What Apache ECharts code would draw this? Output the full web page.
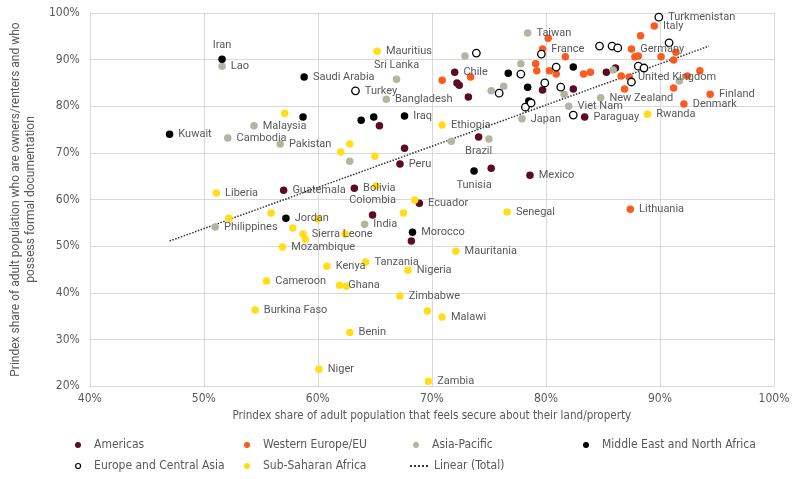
<!DOCTYPE html>
<html>
<head>
<meta charset="utf-8">
<script src="https://cdn.jsdelivr.net/npm/echarts@6/dist/echarts.min.js"></script>
<style>
html,body{margin:0;padding:0;background:#fff;}
#chart{width:800px;height:479px;}
</style>
</head>
<body>
<div id="chart"></div>
<script>
// ---- Data: [x = % feel secure, y = % owners/renters with formal documentation, label] ----
const americas = [
  [72.0,87.3,'Chile'],[72.2,85.0,''],[72.4,84.5,''],[73.2,82.0,''],[65.4,75.8,''],
  [67.6,71.0,''],[67.2,67.6,'Peru'],[74.1,73.4,'Brazil'],[75.2,66.7,''],[78.6,65.2,'Mexico'],
  [57.0,62.0,'Guatemala'],[63.2,62.4,'Bolivia'],[68.9,59.2,'Ecuador'],[64.8,56.7,'Colombia'],
  [68.2,51.1,''],[79.7,83.5,''],[82.4,83.7,''],[83.4,77.7,'Paraguay'],[85.3,87.3,''],[86.1,88.2,'']
];
const westernEurope = [
  [70.9,85.6,''],[73.4,86.3,''],[80.2,94.6,''],[79.7,92.3,'France'],[81.7,90.6,''],
  [79.1,89.1,''],[79.2,87.6,''],[80.3,87.6,''],[80.9,86.9,''],[83.3,86.9,''],
  [83.9,87.3,''],[86.6,86.5,''],[87.3,86.3,'United Kingdom'],[86.9,83.7,''],[88.3,95.1,''],
  [89.5,97.2,'Italy'],[87.5,92.3,'Germany'],[87.8,90.6,''],[88.1,90.8,''],[90.1,90.6,''],
  [91.2,89.9,''],[91.4,91.6,''],[92.4,86.5,''],[93.5,87.6,''],[91.2,83.9,''],
  [94.4,82.6,'Finland'],[92.1,80.5,'Denmark'],[87.4,57.9,'Lithuania']
];
const asiaPacific = [
  [51.6,88.6,'Lao'],[54.4,75.8,'Malaysia'],[52.1,73.2,'Cambodia'],[56.7,71.9,'Pakistan'],
  [51.0,54.1,'Philippines'],[66.9,85.8,'Sri Lanka'],[66.0,81.5,'Bangladesh'],[72.9,90.8,''],
  [78.4,95.7,'Taiwan'],[77.8,89.1,''],[75.2,83.3,''],[76.3,84.3,''],[77.9,77.3,'Japan'],
  [71.7,72.5,''],[75.0,73.0,''],[82.0,80.0,'Viet Nam'],[81.6,82.6,''],[84.8,81.8,'New Zealand'],
  [85.9,87.8,''],[91.7,85.4,''],[64.1,54.7,'India'],[62.8,68.2,'']
];
const middleEast = [
  [51.6,90.1,'Iran'],[47.0,74.0,'Kuwait'],[58.8,86.3,'Saudi Arabia'],[58.7,77.7,''],
  [63.8,77.0,''],[64.9,77.7,''],[67.6,77.9,'Iraq'],[73.7,66.1,'Tunisia'],[76.7,87.1,''],
  [78.4,84.1,''],[78.5,81.1,''],[82.4,88.4,''],[57.2,56.0,'Jordan'],[68.3,53.0,'Morocco']
];
const europeCentralAsia = [
  [63.3,83.3,'Turkey'],[73.9,91.4,''],[77.8,86.9,''],[75.9,82.8,''],[78.2,79.8,''],
  [78.7,80.7,''],[79.6,91.2,''],[80.9,88.4,''],[79.9,85.0,''],[81.3,84.1,''],
  [82.4,78.1,''],[84.7,92.9,''],[85.8,92.9,''],[86.3,92.5,''],[88.1,88.6,''],
  [88.6,88.2,''],[87.5,85.2,''],[90.8,93.6,''],[89.9,99.1,'Turkmenistan']
];
const subSaharan = [
  [65.2,91.8,'Mauritius'],[57.1,78.5,''],[70.9,76.0,'Ethiopia'],[62.8,71.9,''],[62.0,70.2,''],
  [65.0,69.3,''],[65.1,62.9,''],[51.1,61.4,'Liberia'],[52.2,56.0,''],[55.9,57.1,''],
  [57.8,53.9,''],[58.7,52.6,'Sierra Leone'],[58.9,51.5,''],[56.9,49.8,'Mozambique'],[62.4,52.6,''],
  [60.0,55.8,''],[60.8,45.7,'Kenya'],[55.5,42.5,'Cameroon'],[61.9,41.6,'Ghana'],[62.5,41.4,''],
  [54.5,36.3,'Burkina Faso'],[64.2,46.6,'Tanzania'],[67.9,44.8,'Nigeria'],[72.1,48.9,'Mauritania'],
  [67.2,39.3,'Zimbabwe'],[69.6,36.1,''],[70.9,34.8,'Malawi'],[62.8,31.5,'Benin'],
  [60.1,23.6,'Niger'],[69.7,21.0,'Zambia'],[76.6,57.3,'Senegal'],[67.5,57.1,''],[68.5,59.9,''],
  [88.9,78.3,'Rwanda']
];
// Linear trend (Total), endpoints as drawn
const trendX = [47.0, 94.3];
const trendY = [51.1, 92.9];
const rSquaredText = 'R² = 0.3576';

const xTicks = {min: 40, max: 100, interval: 10};
const yTicks = {min: 20, max: 100, interval: 10};

const xTitle = 'Prindex share of adult population that feels secure about their land/property';
const yTitle = 'Prindex share of adult population who are owners/renters and who\npossess formal documentation';

const labelPos = {'Iran':'top','Sri Lanka':'top','Colombia':'top','Brazil':'bottom','Tunisia':'bottom'};

const condensed = '"Liberation Sans Narrow","DejaVu Sans Condensed","Roboto Condensed",sans-serif';
const labelFont = 'Roboto, "Noto Sans", sans-serif';
const textColor = '#595959';

function toData(arr){
  return arr.map(d => {
    const o = {value:[d[0], d[1]], name: d[2]};
    if (d[2]) {
      o.label = {show:true, position: labelPos[d[2]] || 'right'};
    }
    return o;
  });
}

function scatter(name, arr, color, border){
  return {
    name, type:'scatter', data: toData(arr), symbolSize: 7.5,
    itemStyle: border ? {color:'#ffffff', borderColor: border, borderWidth:1.3, opacity:1}
                      : {color, opacity:1},
    label: {show:false, formatter: p => p.data.name, color: textColor, fontSize: 11,
            fontFamily: labelFont, distance: 5},
    emphasis: {disabled:true}, z: 3
  };
}

const chart = echarts.init(document.getElementById('chart'), null, {renderer:'canvas'});

const legendBase = {
  orient:'horizontal', itemWidth: 22, itemHeight: 6, itemGap: 4,
  textStyle: {color: textColor, fontSize: 12, fontFamily: condensed},
  selectedMode: false
};
function leg(name, left, top, opts){
  return Object.assign({}, legendBase, {data:[name], left, top}, opts || {});
}

chart.setOption({
  animation: false,
  backgroundColor: '#fff',
  grid: {left: 78, right: 26, top: 13, bottom: 93},
  xAxis: {
    type:'value', min: xTicks.min, max: xTicks.max, interval: xTicks.interval,
    axisLine:{show:true, lineStyle:{color:'#d9d9d9'}}, axisTick:{show:false},
    splitLine:{show:true, lineStyle:{color:'#d9d9d9', width:1}},
    axisLabel:{formatter:'{value}%', color:textColor, fontSize:12, fontFamily:condensed, margin:7},
    name: xTitle, nameLocation:'middle', nameGap: 21,
    nameTextStyle:{color:textColor, fontSize:11.6, fontFamily:condensed}
  },
  yAxis: {
    type:'value', min: yTicks.min, max: yTicks.max, interval: yTicks.interval,
    axisLine:{show:true, lineStyle:{color:'#d9d9d9'}}, axisTick:{show:false},
    splitLine:{show:true, lineStyle:{color:'#d9d9d9', width:1}},
    axisLabel:{formatter:'{value}%', color:textColor, fontSize:12, fontFamily:condensed, margin:10},
    name: yTitle, nameLocation:'middle', nameGap: 37, nameRotate: 90,
    nameTextStyle:{color:textColor, fontSize:12, fontFamily:labelFont, lineHeight:15, align:'center'}
  },
  legend: [
    leg('Americas', 70, 434),
    leg('Western Europe/EU', 239, 434),
    leg('Asia-Pacific', 408, 434),
    leg('Middle East and North Africa', 578, 434),
    leg('Europe and Central Asia', 70, 455, {itemHeight: 5,
        itemStyle:{color:'#ffffff', borderColor:'#000000', borderWidth:1.2}}),
    leg('Sub-Saharan Africa', 239, 455),
    leg('Linear (Total)', 404, 455, {itemWidth: 19, itemGap: 4, itemStyle:{opacity:0}})
  ],
  series: [
    scatter('Americas', americas, '#5c0b24'),
    scatter('Western Europe/EU', westernEurope, '#fa5b1e'),
    scatter('Asia-Pacific', asiaPacific, '#b4b4a0'),
    scatter('Middle East and North Africa', middleEast, '#000000'),
    scatter('Europe and Central Asia', europeCentralAsia, null, '#000000'),
    scatter('Sub-Saharan Africa', subSaharan, '#ffdd17'),
    {
      name:'Linear (Total)', type:'line', symbol:'none', z: 2,
      data: trendX.map((x,i) => {
        const o = {value:[x, trendY[i]]};
        if (i === trendX.length - 1) {
          o.label = {show:true, position:'right', formatter: rSquaredText, color:textColor,
                     fontSize:12, fontFamily:labelFont, distance: 8, offset:[0,-2]};
        }
        return o;
      }),
      lineStyle:{color:'#333333', width:1.5, type:'dotted'},
      itemStyle:{color:'#333333'},
      emphasis:{disabled:true}
    }
  ]
});
</script>
</body>
</html>
